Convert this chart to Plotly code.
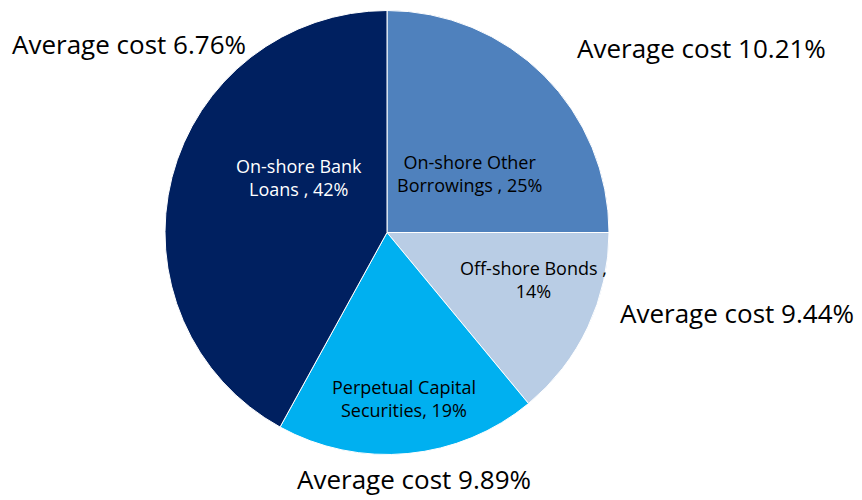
import plotly.graph_objects as go

categories = ["On-shore Other Borrowings", "Off-shore Bonds", "Perpetual Capital Securities", "On-shore Bank Loans"]
shares = [25, 14, 19, 42]
inner_labels = ["On-shore Other<br>Borrowings , 25%", "Off-shore Bonds ,<br>14%", "Perpetual Capital<br>Securities, 19%", "On-shore Bank<br>Loans , 42%"]
avg_cost = ["Average cost 10.21%", "Average cost 9.44%", "Average cost 9.89%", "Average cost 6.76%"]
colors = ["#4F81BD", "#B9CDE5", "#00B0F0", "#002060"]
inner_text_colors = ["#000000", "#000000", "#000000", "#FFFFFF"]

W, H = 862, 500
inner_pos = [(470, 173), (533, 279), (404, 398), (299, 177)]
outer_pos = [(701, 48), (737, 313), (414, 479), (129, 44)]

fig = go.Figure(go.Pie(
    labels=categories, values=shares, sort=False, direction="clockwise", rotation=0,
    marker=dict(colors=colors, line=dict(color="white", width=1)),
    textinfo="none", hoverinfo="label+percent", showlegend=False,
    domain=dict(x=[165 / W, 609 / W], y=[1 - 455 / H, 1 - 10 / H]),
))

annotations = []
for txt, col, (px, py) in zip(inner_labels, inner_text_colors, inner_pos):
    annotations.append(dict(x=px / W, y=1 - py / H, xref="paper", yref="paper", text=txt,
                            showarrow=False, xanchor="center", yanchor="middle",
                            font=dict(family="Open Sans, sans-serif", size=18, color=col)))
for txt, (px, py) in zip(avg_cost, outer_pos):
    annotations.append(dict(x=px / W, y=1 - py / H, xref="paper", yref="paper", text=txt,
                            showarrow=False, xanchor="center", yanchor="middle",
                            font=dict(family="Open Sans, sans-serif", size=26, color="#000000")))

fig.update_layout(width=W, height=H, margin=dict(l=0, r=0, t=0, b=0),
                  paper_bgcolor="white", plot_bgcolor="white", annotations=annotations)
fig.write_html("out.html")
